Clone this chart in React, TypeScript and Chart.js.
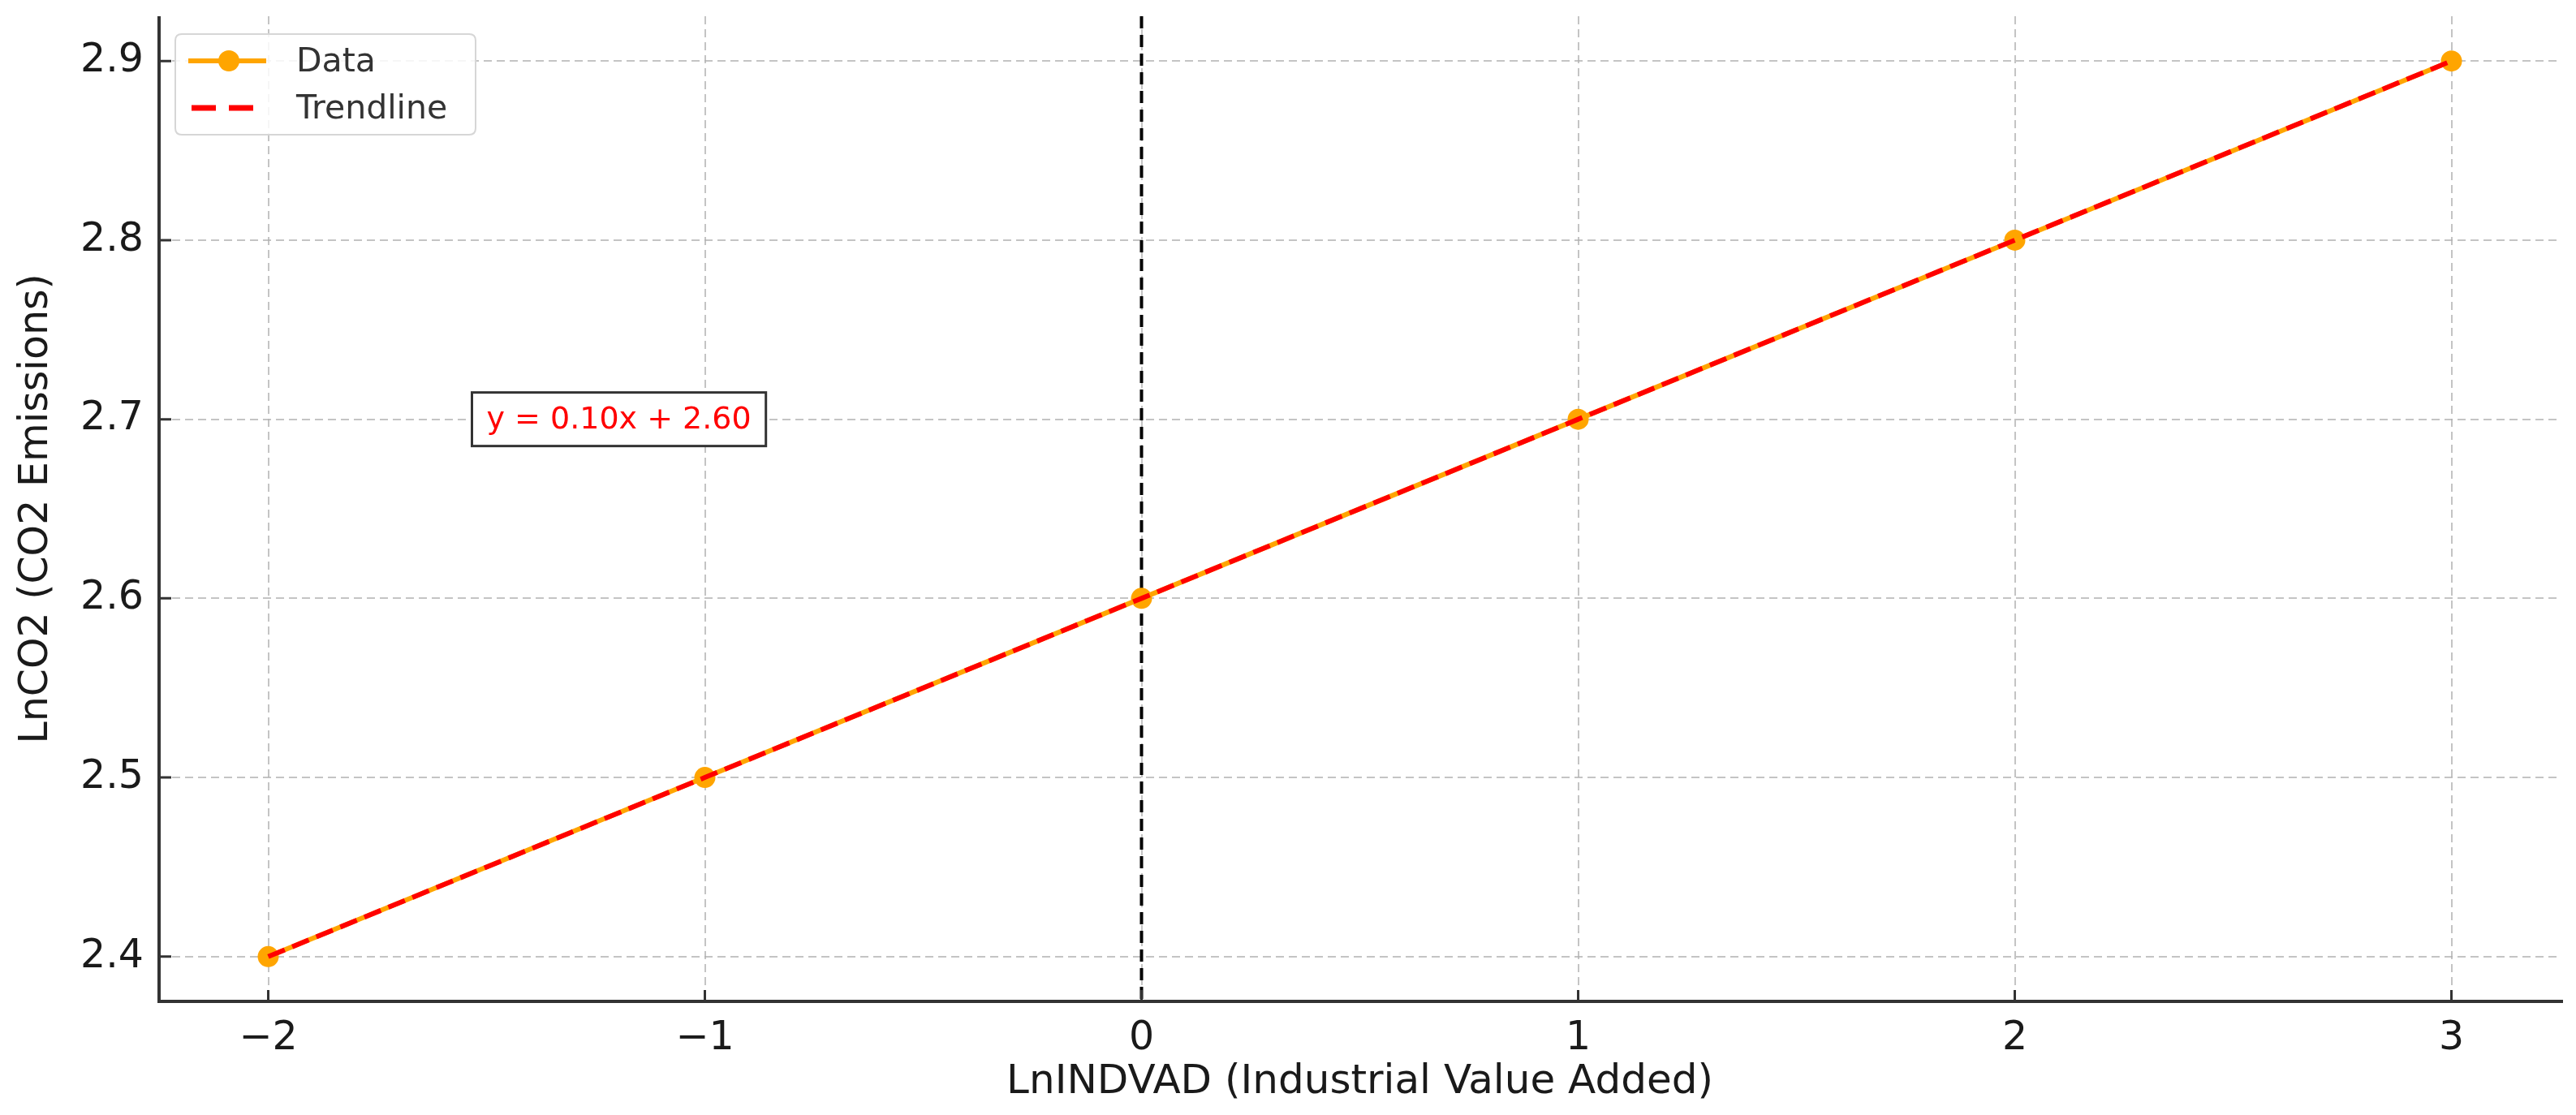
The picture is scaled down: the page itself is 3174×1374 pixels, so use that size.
import React, { useEffect, useRef } from "react";
import { Chart, registerables } from "chart.js";

Chart.register(...registerables);

// ---- data ----
const xValues = [-2, -1, 0, 1, 2, 3];
const dataValues = [2.4, 2.5, 2.6, 2.7, 2.8, 2.9];
const trendValues = [2.4, 2.5, 2.6, 2.7, 2.8, 2.9];
const xTicks = [-2, -1, 0, 1, 2, 3];
const yTicks = [2.4, 2.5, 2.6, 2.7, 2.8, 2.9];
const xRange = [-2.25, 3.25];
const yRange = [2.375, 2.925];
const vlineX = 0;
const equationText = "y = 0.10x + 2.60";
const equationPos = [-1.5, 2.7];
const seriesNames = ["Data", "Trendline"];
const xTitle = "LnINDVAD (Industrial Value Added)";
const yTitle = "LnCO2 (CO2 Emissions)";

const FONT = "'DejaVu Sans', 'Liberation Sans', sans-serif";
const ORANGE = "#FFA500";
const RED = "#FF0000";
const AXIS = "#333333";

const extras = {
  id: "extras",
  beforeDatasetsDraw(chart: any) {
    const { ctx, chartArea, scales } = chart;
    const x = scales.x.getPixelForValue(vlineX);
    ctx.save();
    ctx.strokeStyle = "#000000";
    ctx.lineWidth = 4;
    ctx.setLineDash([15, 8]);
    ctx.beginPath();
    ctx.moveTo(x, chartArea.top);
    ctx.lineTo(x, chartArea.bottom);
    ctx.stroke();
    ctx.restore();
  },
  afterDatasetsDraw(chart: any) {
    const { ctx, chartArea, scales } = chart;
    ctx.save();
    ctx.strokeStyle = AXIS;
    ctx.lineWidth = 4;
    ctx.setLineDash([]);
    ctx.beginPath();
    ctx.moveTo(chartArea.left, chartArea.top);
    ctx.lineTo(chartArea.left, chartArea.bottom);
    ctx.lineTo(chartArea.right + 3, chartArea.bottom);
    ctx.stroke();
    ctx.lineWidth = 3;
    ctx.beginPath();
    for (const v of yTicks) {
      const py = scales.y.getPixelForValue(v);
      ctx.moveTo(chartArea.left, py);
      ctx.lineTo(chartArea.left + 15, py);
    }
    for (const v of xTicks) {
      const px = scales.x.getPixelForValue(v);
      ctx.moveTo(px, chartArea.bottom);
      ctx.lineTo(px, chartArea.bottom - 14);
    }
    ctx.stroke();
    ctx.restore();
  },
  afterDraw(chart: any) {
    const { ctx, scales } = chart;
    ctx.save();
    // equation annotation
    ctx.font = `38px ${FONT}`;
    const tx = scales.x.getPixelForValue(equationPos[0]);
    const ty = scales.y.getPixelForValue(equationPos[1]);
    const w = ctx.measureText(equationText).width;
    ctx.fillStyle = "#ffffff";
    ctx.fillRect(tx - 18, ty - 33, w + 36, 66);
    ctx.strokeStyle = "#333333";
    ctx.lineWidth = 3;
    ctx.strokeRect(tx - 18, ty - 33, w + 36, 66);
    ctx.fillStyle = RED;
    ctx.textAlign = "left";
    ctx.textBaseline = "middle";
    ctx.fillText(equationText, tx, ty + 1);

    // legend
    const lx = 216, ly = 42, lw = 370, lh = 124, r = 8;
    ctx.beginPath();
    ctx.moveTo(lx + r, ly);
    ctx.lineTo(lx + lw - r, ly);
    ctx.quadraticCurveTo(lx + lw, ly, lx + lw, ly + r);
    ctx.lineTo(lx + lw, ly + lh - r);
    ctx.quadraticCurveTo(lx + lw, ly + lh, lx + lw - r, ly + lh);
    ctx.lineTo(lx + r, ly + lh);
    ctx.quadraticCurveTo(lx, ly + lh, lx, ly + lh - r);
    ctx.lineTo(lx, ly + r);
    ctx.quadraticCurveTo(lx, ly, lx + r, ly);
    ctx.closePath();
    ctx.fillStyle = "rgba(255,255,255,0.85)";
    ctx.fill();
    ctx.strokeStyle = "#d6d6d6";
    ctx.lineWidth = 2;
    ctx.stroke();

    const row1 = 75, row2 = 133;
    ctx.strokeStyle = ORANGE;
    ctx.lineWidth = 6;
    ctx.setLineDash([]);
    ctx.beginPath();
    ctx.moveTo(232, row1);
    ctx.lineTo(328, row1);
    ctx.stroke();
    ctx.fillStyle = ORANGE;
    ctx.beginPath();
    ctx.arc(282, row1, 13, 0, Math.PI * 2);
    ctx.fill();

    ctx.strokeStyle = RED;
    ctx.lineWidth = 7;
    ctx.setLineDash([30, 16]);
    ctx.beginPath();
    ctx.moveTo(236, row2);
    ctx.lineTo(328, row2);
    ctx.stroke();
    ctx.setLineDash([]);

    ctx.fillStyle = "#333333";
    ctx.font = `41px ${FONT}`;
    ctx.textAlign = "left";
    ctx.textBaseline = "middle";
    ctx.fillText(seriesNames[0], 365, row1 + 2);
    ctx.fillText(seriesNames[1], 365, row2 + 2);
    ctx.restore();
  },
};

export default function App() {
  const ref = useRef<HTMLCanvasElement | null>(null);

  useEffect(() => {
    if (!ref.current) return;
    const gridColor = "rgba(176,176,176,0.75)";
    const chart = new Chart(ref.current, {
      type: "line",
      data: {
        datasets: [
          {
            label: seriesNames[0],
            data: xValues.map((x, i) => ({ x, y: dataValues[i] })),
            borderColor: ORANGE,
            backgroundColor: ORANGE,
            borderWidth: 6,
            pointRadius: 13,
            pointBorderWidth: 0,
            pointBackgroundColor: ORANGE,
            tension: 0,
            order: 2,
          },
          {
            label: seriesNames[1],
            data: xValues.map((x, i) => ({ x, y: trendValues[i] })),
            borderColor: RED,
            backgroundColor: RED,
            borderWidth: 6,
            borderDash: [22, 10],
            pointRadius: 0,
            tension: 0,
            order: 1,
          },
        ],
      },
      options: {
        animation: false,
        responsive: false,
        devicePixelRatio: 1,
        layout: { padding: { top: 20, right: 19, left: 0, bottom: 0 } },
        plugins: {
          legend: { display: false },
          tooltip: { enabled: false },
        },
        scales: {
          x: {
            type: "linear",
            min: xRange[0],
            max: xRange[1],
            afterBuildTicks: (s: any) => {
              s.ticks = xTicks.map((v) => ({ value: v }));
            },
            afterFit: (s: any) => {
              s.height = 140;
              s.paddingLeft = 0;
              s.paddingRight = 0;
            },
            grid: {
              color: gridColor,
              lineWidth: 2,
              drawTicks: false,
            },
            border: { display: false, dash: [10, 6] },
            ticks: {
              padding: 17,
              color: "#1a1a1a",
              font: { family: FONT, size: 49 },
              callback: (v: any) => (Number(v) < 0 ? "\u2212" + Math.abs(Number(v)) : String(v)),
            },
            title: {
              display: true,
              text: xTitle,
              color: "#1a1a1a",
              font: { family: FONT, size: 50, lineHeight: 1 },
              padding: { top: 0, bottom: 15 },
            },
          },
          y: {
            type: "linear",
            min: yRange[0],
            max: yRange[1],
            afterBuildTicks: (s: any) => {
              s.ticks = yTicks.map((v) => ({ value: v }));
            },
            afterFit: (s: any) => {
              s.width = 196;
              s.paddingTop = 0;
              s.paddingBottom = 0;
            },
            grid: {
              color: gridColor,
              lineWidth: 2,
              drawTicks: false,
            },
            border: { display: false, dash: [10, 6] },
            ticks: {
              padding: 19,
              color: "#1a1a1a",
              font: { family: FONT, size: 49 },
              callback: (v: any) => Number(v).toFixed(1),
            },
            title: {
              display: true,
              text: yTitle,
              color: "#1a1a1a",
              font: { family: FONT, size: 49, lineHeight: 1 },
              padding: { top: 21, bottom: 0 },
            },
          },
        },
      },
      plugins: [extras],
    } as any);
    return () => chart.destroy();
  }, []);

  return (
    <div style={{ position: "absolute", left: 0, top: 0, width: 3174, height: 1374, background: "#ffffff" }}>
      <canvas ref={ref} width={3174} height={1374} style={{ display: "block", width: 3174, height: 1374 }} />
    </div>
  );
}
